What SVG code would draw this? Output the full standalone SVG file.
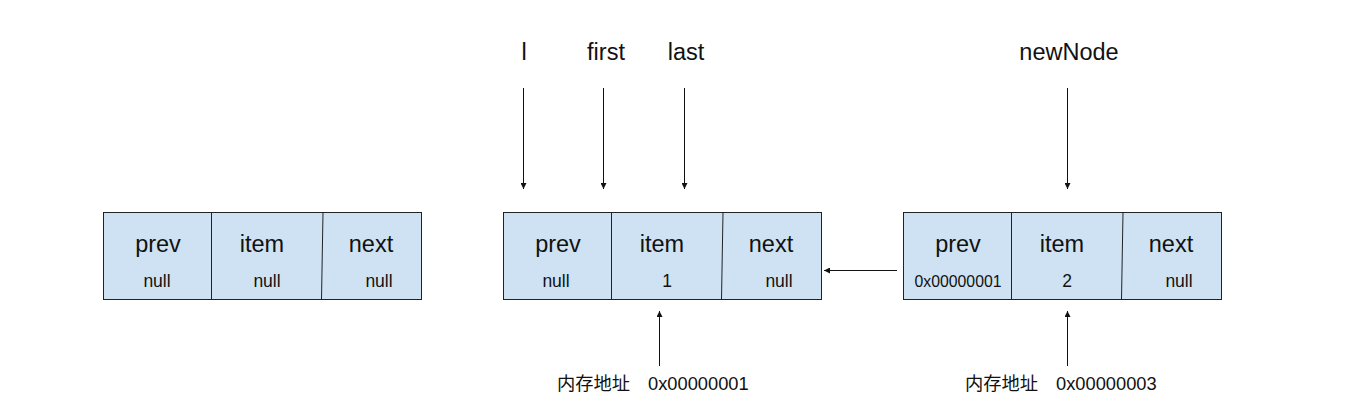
<svg xmlns="http://www.w3.org/2000/svg" width="1363" height="418" viewBox="0 0 1363 418">
<style>
.box{fill:#cfe2f3;stroke:#222;stroke-width:1}
.div{stroke:#222;stroke-width:1}
.h{font-family:"Liberation Sans",Arial,sans-serif;font-size:23.5px;fill:#111;text-anchor:middle}
.v{font-family:"Liberation Sans",Arial,sans-serif;font-size:17.5px;fill:#111;text-anchor:middle}
.addr{font-family:"Liberation Sans","Noto Sans CJK SC",sans-serif;font-size:18.3px;fill:#111}
.lbl{font-family:"Liberation Sans",Arial,sans-serif;font-size:23.5px;fill:#111;text-anchor:middle}
.c{stroke:#111;stroke-width:1;fill:none;marker-end:url(#ah)}
</style>
<defs>
<marker id="ah" viewBox="0 0 6 6" refX="6" refY="3" markerWidth="6" markerHeight="6" markerUnits="userSpaceOnUse" orient="auto">
<path d="M0,0 L6,3 L0,6 z" fill="#111"/>
</marker>
</defs>
<rect width="1363" height="418" fill="#fff"/>
<g id="node1">
<rect class="box" x="103.5" y="212.5" width="318" height="87"/>
<line class="div" x1="211.5" y1="212.5" x2="211.5" y2="299.5"/>
<line class="div" x1="323" y1="212.5" x2="321.5" y2="299.5"/>
<text class="h" x="158" y="252">prev</text>
<text class="h" x="262" y="252">item</text>
<text class="h" x="371" y="252">next</text>
<text class="v" x="157" y="287">null</text>
<text class="v" x="267" y="287">null</text>
<text class="v" x="379" y="287">null</text>
</g>
<g id="node2">
<rect class="box" x="503.5" y="212.5" width="318" height="87"/>
<line class="div" x1="611.5" y1="212.5" x2="611.5" y2="299.5"/>
<line class="div" x1="723" y1="212.5" x2="721.5" y2="299.5"/>
<text class="h" x="558" y="252">prev</text>
<text class="h" x="662" y="252">item</text>
<text class="h" x="771" y="252">next</text>
<text class="v" x="556" y="287">null</text>
<text class="v" x="667" y="287">1</text>
<text class="v" x="779" y="287">null</text>
</g>
<g id="node3">
<rect class="box" x="903.5" y="212.5" width="318" height="87"/>
<line class="div" x1="1011.5" y1="212.5" x2="1011.5" y2="299.5"/>
<line class="div" x1="1123" y1="212.5" x2="1121.5" y2="299.5"/>
<text class="h" x="958" y="252">prev</text>
<text class="h" x="1062" y="252">item</text>
<text class="h" x="1171" y="252">next</text>
<text class="v" x="958" y="287" style="font-size:15.8px">0x00000001</text>
<text class="v" x="1067" y="287">2</text>
<text class="v" x="1179" y="287">null</text>
</g>
<g id="labels">
<text class="lbl" x="524" y="60">l</text>
<text class="lbl" x="606" y="60">first</text>
<text class="lbl" x="686" y="60">last</text>
<text class="lbl" x="1069" y="60">newNode</text>
<text class="addr" x="557" y="390">内存地址</text>
<text class="addr" x="648" y="390">0x00000001</text>
<text class="addr" x="965" y="390">内存地址</text>
<text class="addr" x="1056" y="390">0x00000003</text>
</g>
<g id="connectors">
<line class="c" x1="523.5" y1="88" x2="523.5" y2="189"/>
<line class="c" x1="603.5" y1="88" x2="603.5" y2="189"/>
<line class="c" x1="684.5" y1="88" x2="684.5" y2="189"/>
<line class="c" x1="1067.5" y1="88" x2="1067.5" y2="189"/>
<line class="c" x1="659.5" y1="366" x2="659.5" y2="311"/>
<line class="c" x1="1067.5" y1="366" x2="1067.5" y2="311"/>
<line class="c" x1="897" y1="270.5" x2="824" y2="270.5"/>
</g>
</svg>
